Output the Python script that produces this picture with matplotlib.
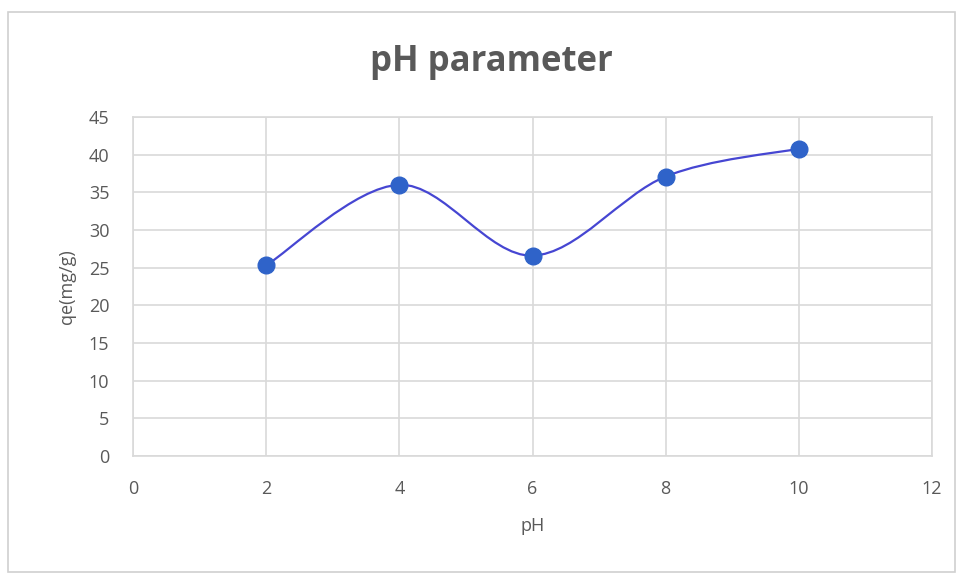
import numpy as np
import matplotlib
matplotlib.use('Agg')
from matplotlib import pyplot as plt
from matplotlib.path import Path
from matplotlib.patches import PathPatch, Rectangle

ph = [2, 4, 6, 8, 10]
qe = [25.3, 36.0, 26.6, 37.1, 40.8]
title = 'pH parameter'
xlabel = 'pH'
ylabel = 'qe(mg/g)'

plt.rcParams['font.family'] = ['Open Sans', 'DejaVu Sans']

fig = plt.figure(figsize=(9.61, 5.73), dpi=100)
ax = fig.add_axes([133 / 961, 1 - 456 / 573, (932 - 133) / 961, (456 - 117) / 573])

# outer chart border
fig.patches.append(Rectangle((8 / 961, 1 - 572 / 573), 947 / 961, 560 / 573,
                             transform=fig.transFigure, fill=False,
                             edgecolor='#d0d0d0', linewidth=1.2))

# smoothed line like Excel (bezier through the points)
pts = np.column_stack([ph, qe]).astype(float)
n = len(pts)
verts = [pts[0]]
codes = [Path.MOVETO]
for i in range(n - 1):
    p0 = pts[max(i - 1, 0)]
    p1 = pts[i]
    p2 = pts[i + 1]
    p3 = pts[min(i + 2, n - 1)]
    c1 = p1 + (p2 - p0) / 6
    c2 = p2 - (p3 - p1) / 6
    verts += [c1, c2, p2]
    codes += [Path.CURVE4] * 3
ax.add_patch(PathPatch(Path(verts, codes), fill=False, edgecolor='#4646d2',
                       linewidth=1.6, zorder=3))
ax.plot(ph, qe, 'o', color='#2f63c9', markersize=12, zorder=4)

ax.set_xlim(0, 12)
ax.set_ylim(0, 45)
ax.set_xticks(range(0, 13, 2))
ax.set_yticks(range(0, 46, 5))
ax.grid(True, color='#d9d9d9', linewidth=1.2)
ax.set_axisbelow(True)
for s in ax.spines.values():
    s.set_color('#d9d9d9')
    s.set_linewidth(1.2)
ax.tick_params(length=0, labelsize=13, labelcolor='#595959')
ax.tick_params(axis='y', pad=17)
ax.tick_params(axis='x', pad=17)

ax.set_xlabel(xlabel, fontsize=13, color='#595959', labelpad=14)
ax.set_ylabel(ylabel, fontsize=13, color='#595959', labelpad=9)
fig.text(491 / 961, 1 - 62 / 573, title, ha='center', va='center',
         fontsize=25, fontweight='bold', color='#595959')

plt.savefig('out.png', dpi=100)
